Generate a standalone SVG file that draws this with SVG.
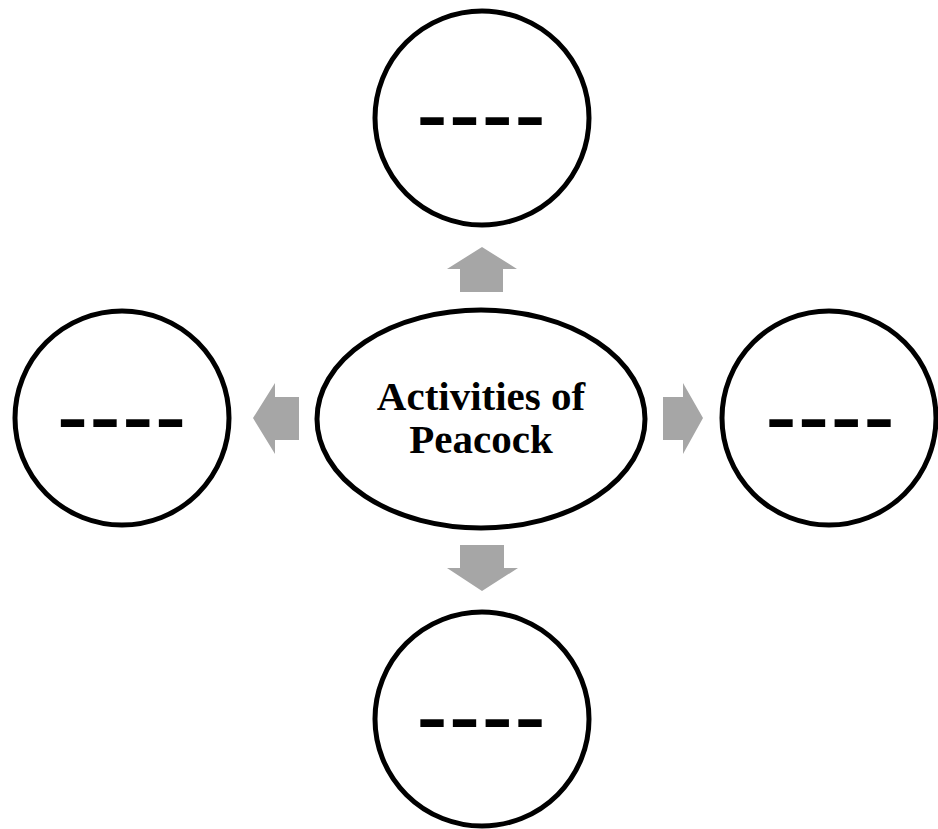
<svg xmlns="http://www.w3.org/2000/svg" width="938" height="829" viewBox="0 0 938 829">
<style>
.node{fill:#ffffff;stroke:#000000;stroke-width:5}
.dash{font-family:"Liberation Sans",Arial,sans-serif;font-weight:bold;font-size:92px;letter-spacing:2px;fill:#000000;text-anchor:middle}
.title{font-family:"Liberation Serif","Times New Roman",serif;font-weight:bold;font-size:41px;fill:#000000;text-anchor:middle}
.arrow{fill:#a6a6a6;stroke:none}
</style>
<rect width="938" height="829" fill="#ffffff"/>
<g id="connectors">
<polygon class="arrow" points="460,292 460,269 447,269 482,247 517,269 503,269 503,292"/>
<polygon class="arrow" points="460,545 504,545 504,568 518,568 482,591 447,568 460,568"/>
<polygon class="arrow" points="299,397 275,397 275,383 253,418 275,454 275,440 299,440"/>
<polygon class="arrow" points="663,397 683,397 683,383 703,418 683,454 683,440 663,440"/>
</g>
<g id="center">
<ellipse class="node" cx="481" cy="419" rx="164" ry="109"/>
<text class="title" x="481" y="410">Activities of</text>
<text class="title" x="481" y="453">Peacock</text>
</g>
<g id="top">
<circle class="node" cx="482" cy="118" r="107"/>
<text class="dash" transform="translate(482,138) scale(1,0.7)">----</text>
</g>
<g id="left">
<circle class="node" cx="122" cy="418" r="107"/>
<text class="dash" transform="translate(122.5,440) scale(1,0.7)">----</text>
</g>
<g id="right">
<circle class="node" cx="829" cy="418" r="107"/>
<text class="dash" transform="translate(831,440) scale(1,0.7)">----</text>
</g>
<g id="bottom">
<circle class="node" cx="482" cy="719" r="107"/>
<text class="dash" transform="translate(482,740) scale(1,0.7)">----</text>
</g>
</svg>
